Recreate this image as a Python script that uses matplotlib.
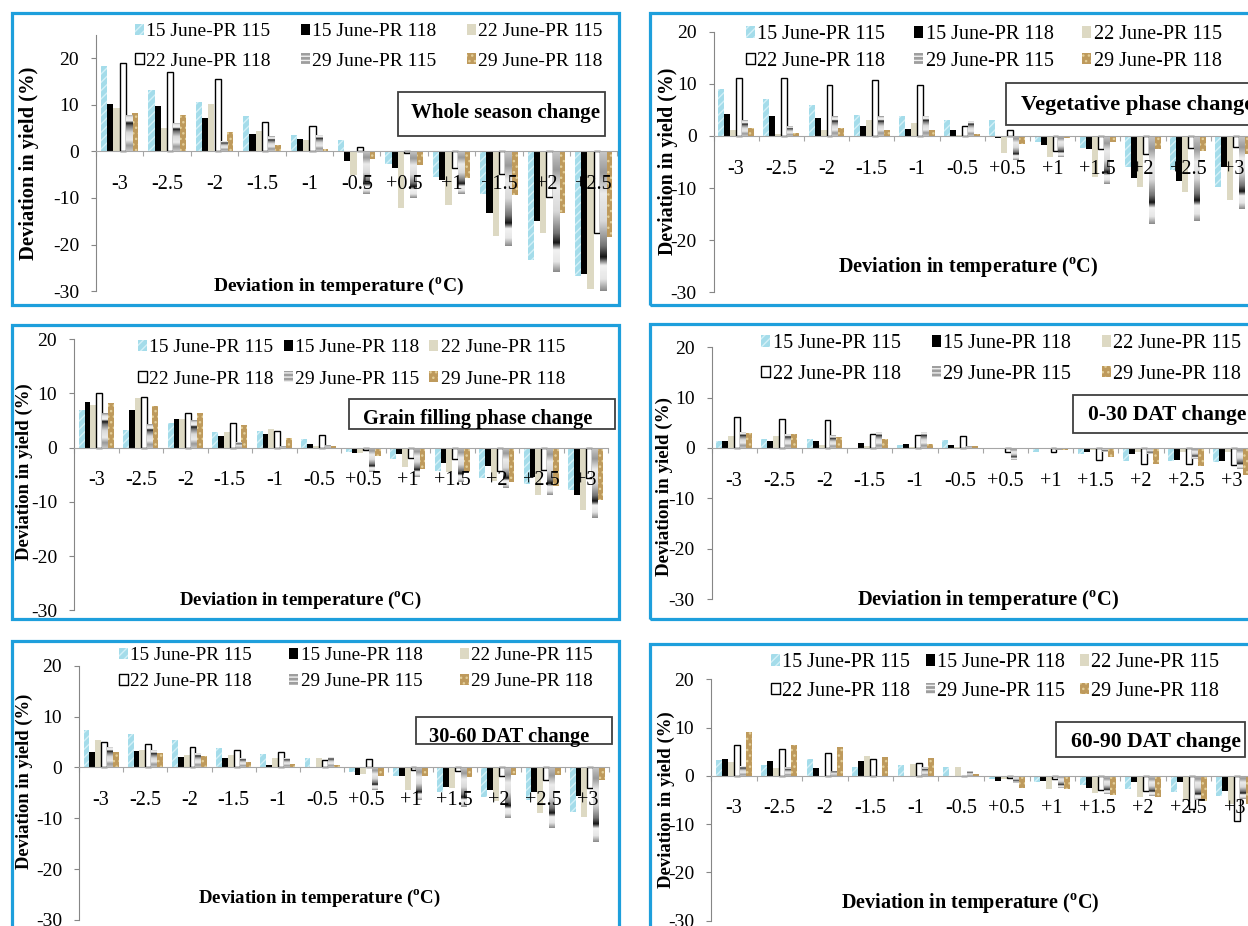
import numpy as np
import matplotlib
matplotlib.use('Agg')
import matplotlib.pyplot as plt
from matplotlib.patches import Rectangle

# ---- data (deviation in yield, %) ----
series_names = ['15 June-PR 115', '15 June-PR 118', '22 June-PR 115',
                '22 June-PR 118', '29 June-PR 115', '29 June-PR 118']
temps_11 = ['-3', '-2.5', '-2', '-1.5', '-1', '-0.5', '+0.5', '+1', '+1.5', '+2', '+2.5']
temps_12 = temps_11 + ['+3']

whole_season = [
    [18.3, 13.1, 10.6, 7.6, 3.4, 2.5, -2.8, -5.5, -9.2, -23.3, -26.7],
    [10.1, 9.8, 7.1, 3.7, 2.7, -2.0, -3.6, -6.1, -13.3, -15.0, -26.2],
    [9.2, 5.1, 10.1, 4.4, 2.5, -5.0, -12.2, -11.4, -18.1, -17.4, -29.5],
    [18.9, 17.1, 15.6, 6.3, 5.4, 1.0, -0.3, -3.6, -4.8, -9.7, -17.5],
    [7.8, 6.1, 2.3, 3.2, 3.5, -9.2, -9.9, -9.2, -20.2, -25.8, -30.0],
    [8.2, 7.8, 4.2, 1.4, 0.4, -1.7, -2.9, -5.8, -9.3, -13.3, -18.3],
]
vegetative = [
    [9.1, 7.0, 6.0, 4.0, 3.8, 3.0, 3.0, -1.2, -2.3, -6.0, -6.6, -9.8],
    [4.2, 3.8, 3.5, 1.9, 1.3, 1.1, -0.4, -1.7, -2.6, -8.0, -8.6, -6.0],
    [1.1, 0.4, 1.2, 3.0, 2.5, 0.1, -3.2, -4.0, -7.9, -9.8, -10.8, -12.3],
    [11.1, 11.1, 9.7, 10.7, 9.7, 2.0, 1.2, -2.8, -2.6, -3.5, -2.4, -2.2],
    [3.0, 1.9, 3.8, 3.8, 3.9, 2.9, -4.7, -4.1, -9.2, -16.9, -16.3, -14.0],
    [1.5, 0.6, 1.5, 1.1, 1.1, 0.3, -1.5, -0.3, -1.1, -2.6, -2.9, -3.4],
]
grain_filling = [
    [6.9, 3.3, 4.6, 2.9, 3.1, 1.5, -0.9, -2.2, -4.3, -5.7, -6.8, -7.9],
    [8.4, 6.9, 5.2, 2.1, 2.5, 0.6, -1.1, -1.2, -2.9, -3.4, -5.4, -8.7],
    [7.9, 9.2, 5.3, 2.9, 3.5, 0.3, -1.0, -3.6, -4.5, -6.1, -8.7, -11.5],
    [10.1, 9.4, 6.4, 4.6, 3.1, 2.3, -0.5, -2.0, -2.1, -4.3, -4.2, -5.7],
    [6.4, 4.4, 5.0, 1.0, 0.2, 0.4, -4.5, -5.4, -6.3, -7.5, -8.7, -12.9],
    [8.2, 7.6, 6.3, 4.1, 1.7, 0.2, -1.6, -3.9, -4.5, -6.3, -7.1, -9.7],
]
dat_0_30 = [
    [1.3, 1.7, 1.7, -0.1, 0.5, 1.5, -0.1, -0.7, -1.1, -2.5, -2.6, -2.8],
    [1.3, 1.3, 1.3, 0.9, 0.7, 0.5, -0.3, -0.3, -0.8, -1.1, -2.3, -2.5],
    [2.4, 2.4, 0.5, 0.4, 0.2, 0.2, -0.1, -0.1, -0.5, -0.7, -0.8, -0.7],
    [6.1, 5.8, 5.6, 2.7, 2.5, 2.4, -0.7, -0.7, -2.3, -3.1, -3.1, -3.4],
    [3.2, 2.8, 2.5, 3.2, 3.2, 0.3, -2.3, -0.5, -0.8, -1.1, -2.1, -4.2],
    [3.0, 2.8, 2.1, 1.7, 0.7, 0.3, -0.3, -0.5, -1.8, -3.1, -3.6, -5.4],
]
dat_30_60 = [
    [7.3, 6.5, 5.4, 3.9, 2.6, 1.9, -0.9, -1.6, -4.9, -5.8, -6.4, -8.8],
    [3.1, 3.3, 2.1, 1.9, 0.5, -0.2, -1.4, -1.6, -3.9, -4.4, -4.8, -5.6],
    [5.4, 3.5, 2.4, 2.4, 1.8, 1.8, -1.2, -4.4, -4.1, -6.7, -9.0, -9.7],
    [5.0, 4.7, 4.1, 3.5, 3.1, 1.4, 1.6, -0.5, -0.7, -1.6, -2.5, -4.0],
    [4.1, 3.5, 2.8, 1.9, 1.8, 2.1, -4.5, -6.4, -7.7, -9.9, -12.0, -14.7],
    [3.1, 2.8, 2.3, 1.1, 0.7, 0.5, -1.6, -1.6, -1.8, -1.5, -1.5, -2.5],
]
dat_60_90 = [
    [3.2, 2.3, 3.5, 1.8, 2.3, 1.8, -0.6, -1.3, -1.8, -2.7, -3.4, -4.1],
    [3.4, 3.1, 1.7, 3.0, -0.3, -0.1, -1.0, -1.0, -2.5, -1.3, -1.3, -3.2],
    [2.8, 1.7, -0.3, 4.2, 2.5, 1.8, -0.7, -2.7, -3.6, -4.4, -5.1, -5.8],
    [6.3, 5.6, 4.7, 3.5, 2.6, -0.1, -0.4, -0.7, -2.9, -3.2, -6.8, -9.4],
    [2.1, 1.8, 1.1, -0.3, 1.8, 1.0, -1.5, -2.6, -3.7, -4.1, -5.1, -4.8],
    [9.0, 6.3, 5.9, 4.0, 3.7, 0.3, -2.5, -2.7, -3.9, -4.4, -5.2, -5.8],
]

# ---- styling ----
W, H = 1248, 926
plt.rcParams['font.family'] = ['Liberation Serif', 'DejaVu Serif']
plt.rcParams['hatch.linewidth'] = 1.0
plt.rcParams['axes.unicode_minus'] = False

bar_styles = [
    dict(facecolor='#A4DCEA', hatch='////', edgecolor='#D3F0F7', linewidth=0),
    dict(facecolor='black', edgecolor='black', linewidth=0),
    dict(facecolor='#DDD9C3', edgecolor='#DDD9C3', linewidth=0),
    dict(facecolor='white', edgecolor='black', linewidth=1.0),
    dict(facecolor='#9E9E9E', hatch='----', edgecolor='#F0F0F0', linewidth=0),
    dict(facecolor='#BE9A5C', hatch='...', edgecolor='#E3CE98', linewidth=0),
]
# silver gradient used by Excel for the 29 June-PR 115 bars (base -> tip)
grad_pos = [0, 0.15, 0.3, 0.5, 0.68, 0.76, 0.82, 0.92, 1.0]
grad_val = [0.78, 0.6, 0.92, 0.85, 0.45, 0.08, 0.95, 0.9, 0.55]
grad = np.interp(np.linspace(0, 1, 100), grad_pos, grad_val).reshape(-1, 1)

BLUE = '#1E9FDC'

fig = plt.figure(figsize=(W / 100, H / 100), dpi=100)


def fx(x):
    return x / W


def fy(y):
    return 1 - y / H


panels = [
    dict(vals=whole_season, cats=temps_11, L=96, pitch=47.4, T=34.7, B=291.3, ymax=25,
         leg=(135, 32, 30, 30, 14), box=(398, 92, 605, 136), title='Whole season change',
         title_xy=(411, 113), title_fs=15, ylab=(29, 163, 14.8), xlab=(338, 287, 14),
         border=(12, 13, 619, 305)),
    dict(vals=vegetative, cats=temps_12, L=713.5, pitch=45.2, T=31.7, B=292.3, ymax=20,
         leg=(745.5, 34, 26, 29, 14.5), box=(1006, 83, 1262, 125), title='Vegetative phase change',
         title_xy=(1021, 105), title_fs=16.2, ylab=(668, 161, 14.3), xlab=(968, 267, 14.6),
         border=(650, 13, 1262, 305)),
    dict(vals=grain_filling, cats=temps_12, L=74, pitch=44.5, T=339, B=610.3, ymax=20,
         leg=(137.5, 348, 32, 10, 14), box=(349, 399, 615, 429), title='Grain filling phase change',
         title_xy=(363, 419), title_fs=14.7, ylab=(24.5, 472, 13.5), xlab=(300, 600, 13.6),
         border=(12, 325, 619, 619)),
    dict(vals=dat_0_30, cats=temps_12, L=711.5, pitch=45.2, T=347.3, B=599, ymax=20,
         leg=(761, 343, 30, 31, 14.5), box=(1073, 395, 1262, 433), title='0-30 DAT change',
         title_xy=(1088, 415), title_fs=15.5, ylab=(664, 487, 13.7), xlab=(988, 600, 14.7),
         border=(650, 324, 1262, 619)),
    dict(vals=dat_30_60, cats=temps_12, L=79, pitch=44.2, T=665.7, B=920, ymax=20,
         leg=(119, 656, 26, 37, 13.8), box=(416, 717, 612, 744), title='30-60 DAT change',
         title_xy=(429, 737), title_fs=14.7, ylab=(24, 781, 13.4), xlab=(319, 898, 13.6),
         border=(12, 641, 619, 940)),
    dict(vals=dat_60_90, cats=temps_12, L=711, pitch=45.5, T=679.3, B=920.7, ymax=20,
         leg=(771, 662, 28, 15, 14.5), box=(1056, 722, 1245, 757), title='60-90 DAT change',
         title_xy=(1071, 742), title_fs=15.6, ylab=(666, 800, 13.5), xlab=(970, 903, 14.5),
         border=(650, 644, 1262, 940)),
]

for p in panels:
    cats = p['cats']
    n = len(cats)
    R = p['L'] + n * p['pitch']
    ax = fig.add_axes([fx(p['L']), fy(p['B']), (R - p['L']) / W, (p['B'] - p['T']) / H])
    ax.set_facecolor('none')

    x = np.arange(n)
    bw = 0.79 / 6
    for i, (name, vals) in enumerate(zip(series_names, p['vals'])):
        bars = ax.bar(x + (i - 2.5) * bw, vals, bw, label=name, zorder=1, **bar_styles[i])
        if i == 4:
            for b in bars:
                h = b.get_height()
                if h == 0:
                    continue
                im = ax.imshow(grad, cmap='gray', vmin=0, vmax=1, origin='lower', aspect='auto',
                               interpolation='bilinear', zorder=1.1,
                               extent=[b.get_x(), b.get_x() + b.get_width(), 0, h])
                im.set_clip_path(b)

    ax.set_xlim(-0.5, n - 0.5)
    ax.set_ylim(-30, p['ymax'])

    for s in ['top', 'right']:
        ax.spines[s].set_visible(False)
    ax.spines['bottom'].set_position(('data', 0))
    ax.spines['bottom'].set_color('#A6A6A6')
    ax.spines['left'].set_color('#868686')

    ax.set_yticks([-30, -20, -10, 0, 10, 20])
    ax.tick_params(axis='y', direction='out', length=3.6, width=0.8, color='#868686',
                   pad=8.6, labelsize=14)
    ax.set_xticks(x)
    ax.set_xticklabels(cats)
    ax.set_xticks(np.arange(-0.5, n), minor=True)
    ax.tick_params(axis='x', which='major', length=0, pad=17, labelsize=14.5)
    ax.tick_params(axis='x', which='minor', direction='out', length=3.6, width=0.8,
                   color='#A6A6A6')

    # legend: two rows of three
    lx, ly, pitch_px, gap_px, lfs = p['leg']
    fs_px = lfs * 100 / 72
    row_h = 0.9 * fs_px
    handles, labels = ax.get_legend_handles_labels()
    order = [0, 3, 1, 4, 2, 5]
    ax.legend([handles[k] for k in order], [labels[k] for k in order], ncol=3,
              loc='upper left', bbox_to_anchor=(fx(lx), fy(ly - row_h / 2)),
              bbox_transform=fig.transFigure, frameon=False, fontsize=lfs,
              borderpad=0, borderaxespad=0, handlelength=9 / fs_px, handleheight=0.5,
              handletextpad=2.5 / fs_px, columnspacing=gap_px / fs_px,
              labelspacing=(pitch_px - row_h) / fs_px)

    # title text box
    x0, y0, x1, y1 = p['box']
    fig.patches.append(Rectangle((fx(x0), fy(y1)), (x1 - x0) / W, (y1 - y0) / H,
                                 transform=fig.transFigure, facecolor='white',
                                 edgecolor='#3F3F3F', linewidth=1.3, zorder=3))
    fig.text(fx(p['title_xy'][0]), fy(p['title_xy'][1]), p['title'], fontsize=p['title_fs'],
             fontweight='bold', ha='left', va='center', zorder=4)

    # axis titles
    yx, yy, yfs = p['ylab']
    fig.text(fx(yx), fy(yy), 'Deviation in yield (%)', rotation=90, fontsize=yfs,
             fontweight='bold', ha='center', va='center')
    xx, xy, xfs = p['xlab']
    fig.text(fx(xx), fy(xy), r'Deviation in temperature ($^\mathregular{o}$C)', fontsize=xfs,
             fontweight='bold', ha='center', va='center')

    # blue panel frame
    bx0, by0, bx1, by1 = p['border']
    fig.patches.append(Rectangle((fx(bx0), fy(by1)), (bx1 - bx0) / W, (by1 - by0) / H,
                                 transform=fig.transFigure, facecolor='none',
                                 edgecolor=BLUE, linewidth=2.3, zorder=5))

fig.savefig('out.png', dpi=100)
